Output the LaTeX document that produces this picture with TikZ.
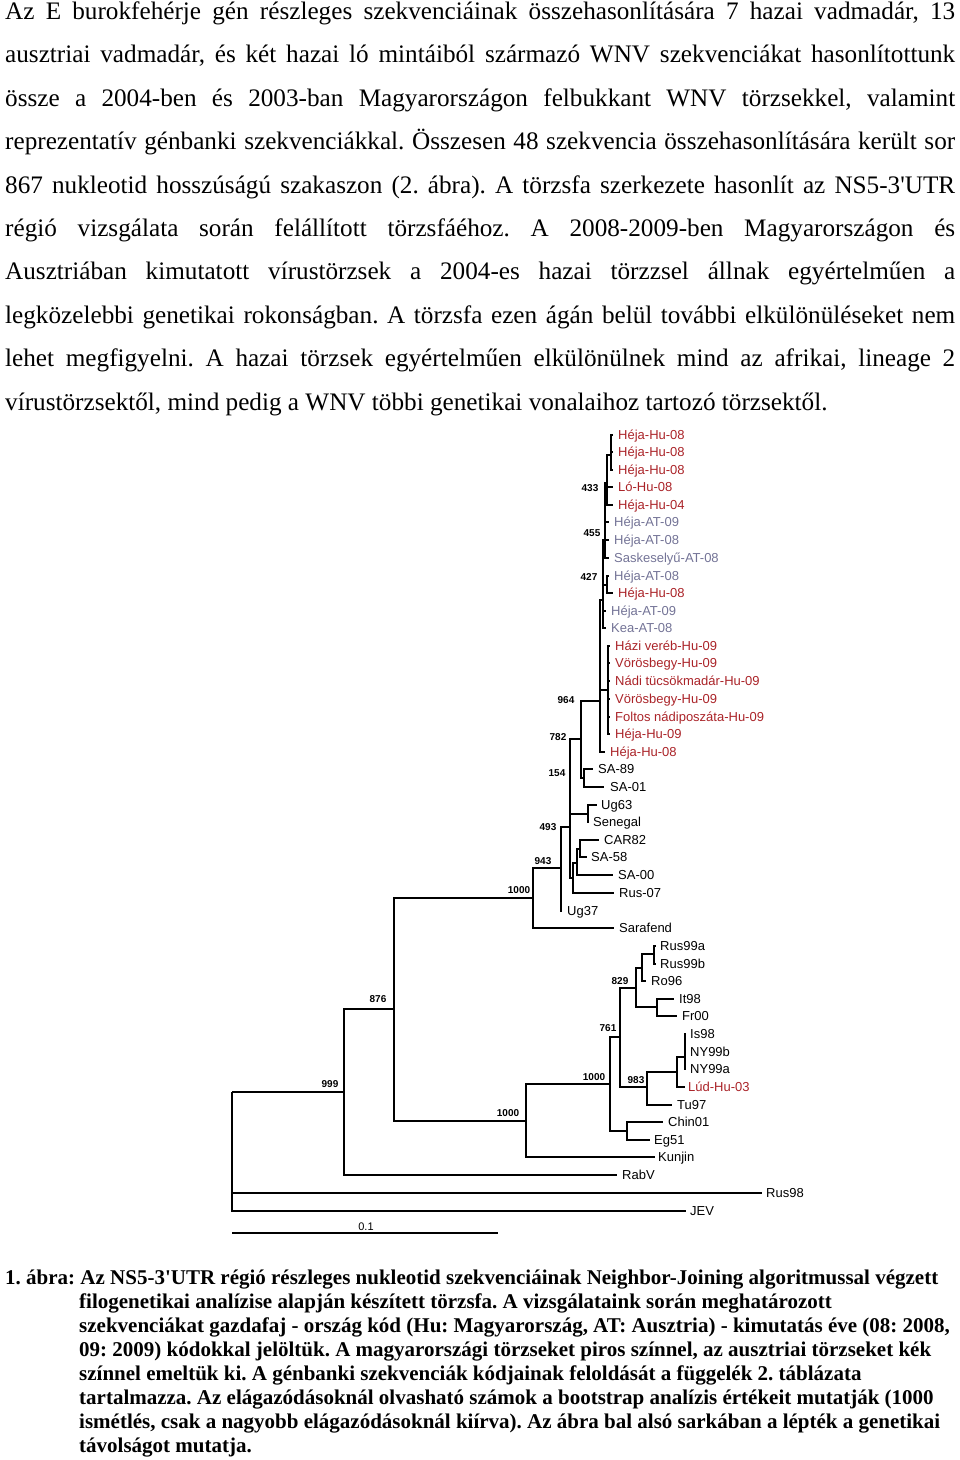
\documentclass[tikz,border=0pt]{standalone}
\usepackage{fontspec}
\setmainfont{Liberation Serif}
\newfontfamily\sansf{Liberation Sans}
\frenchspacing
\definecolor{hured}{RGB}{170,35,40}
\definecolor{atblue}{RGB}{115,115,150}
\newcommand\tleaf[6]{\coordinate (#1) at (#2,#4); \node[#5] (#1-t) at (#3,{#4+4.7}) {#6};}
\newcommand\kids[2]{\foreach \c in {#2} {\draw[br] (#1) |- (\c);}}
\tikzset{
 br/.style={line width=2.2pt},
 lf/.style={anchor=base west, inner sep=0, font=\sansf\fontsize{13}{15}\selectfont},
 hul/.style={lf, text=hured},
 atl/.style={lf, text=atblue},
 bkl/.style={lf, text=black},
 bs/.style={anchor=base, inner sep=0, font=\sansf\bfseries\fontsize{10}{12}\selectfont},
 para/.style={anchor=base west, inner sep=0, font=\fontsize{25.2}{30}\selectfont},
 capt/.style={anchor=base west, inner sep=0, font=\bfseries\fontsize{21}{24}\selectfont},
}
\begin{document}
\begin{tikzpicture}[x=1pt,y=-1pt]
\useasboundingbox (0,0) rectangle (960,1460);
% paragraph
\node[para] (p1) at (5,19.5) {\makebox[950pt][s]{Az E burokfehérje gén részleges szekvenciáinak összehasonlítására 7 hazai vadmadár, 13}};
\node[para] (p2) at (5,62.9) {\makebox[950pt][s]{ausztriai vadmadár, és két hazai ló mintáiból származó WNV szekvenciákat hasonlítottunk}};
\node[para] (p3) at (5,106.3) {\makebox[950pt][s]{össze a 2004-ben és 2003-ban Magyarországon felbukkant WNV törzsekkel, valamint}};
\node[para] (p4) at (5,149.7) {\makebox[950pt][s]{reprezentatív génbanki szekvenciákkal. Összesen 48 szekvencia összehasonlítására került sor}};
\node[para] (p5) at (5,193.1) {\makebox[950pt][s]{867 nukleotid hosszúságú szakaszon (2. ábra). A törzsfa szerkezete hasonlít az NS5-3\textquotesingle UTR}};
\node[para] (p6) at (5,236.5) {\makebox[950pt][s]{régió vizsgálata során felállított törzsfáéhoz. A 2008-2009-ben Magyarországon és}};
\node[para] (p7) at (5,279.9) {\makebox[950pt][s]{Ausztriában kimutatott vírustörzsek a 2004-es hazai törzzsel állnak egyértelműen a}};
\node[para] (p8) at (5,323.3) {\makebox[950pt][s]{legközelebbi genetikai rokonságban. A törzsfa ezen ágán belül további elkülönüléseket nem}};
\node[para] (p9) at (5,366.7) {\makebox[950pt][s]{lehet megfigyelni. A hazai törzsek egyértelműen elkülönülnek mind az afrikai, lineage 2}};
\node[para] (p10) at (5,410.1) {vírustörzsektől, mind pedig a WNV többi genetikai vonalaihoz tartozó törzsektől.};
% caption
\node[capt] (c1) at (5,1284) {1. ábra: Az NS5-3\textquotesingle UTR régió részleges nukleotid szekvenciáinak Neighbor-Joining algoritmussal végzett};
\node[capt] (c2) at (79,1308) {filogenetikai analízise alapján készített törzsfa. A vizsgálataink során meghatározott};
\node[capt] (c3) at (79,1332) {szekvenciákat gazdafaj - ország kód (Hu: Magyarország, AT: Ausztria) - kimutatás éve (08: 2008,};
\node[capt] (c4) at (79,1356) {09: 2009) kódokkal jelöltük. A magyarországi törzseket piros színnel, az ausztriai törzseket kék};
\node[capt] (c5) at (79,1380) {színnel emeltük ki. A génbanki szekvenciák kódjainak feloldását a függelék 2. táblázata};
\node[capt] (c6) at (79,1404) {tartalmazza. Az elágazódásoknál olvasható számok a bootstrap analízis értékeit mutatják (1000};
\node[capt] (c7) at (79,1428) {ismétlés, csak a nagyobb elágazódásoknál kiírva). Az ábra bal alsó sarkában a lépték a genetikai};
\node[capt] (c8) at (79,1452) {távolságot mutatja.};
% leaves
\tleaf{L1}{613}{618}{435}{hul}{Héja-Hu-08}
\tleaf{L2}{613}{618}{452}{hul}{Héja-Hu-08}
\tleaf{L3}{613}{618}{470}{hul}{Héja-Hu-08}
\tleaf{L4}{613}{618}{487}{hul}{Ló-Hu-08}
\tleaf{L5}{613}{618}{505}{hul}{Héja-Hu-04}
\tleaf{L6}{609}{614}{522}{atl}{Héja-AT-09}
\tleaf{L7}{609}{614}{540}{atl}{Héja-AT-08}
\tleaf{L8}{609}{614}{558}{atl}{Saskeselyű-AT-08}
\tleaf{L9}{609}{614}{576}{atl}{Héja-AT-08}
\tleaf{L10}{613}{618}{593}{hul}{Héja-Hu-08}
\tleaf{L11}{606}{611}{611}{atl}{Héja-AT-09}
\tleaf{L12}{606}{611}{628}{atl}{Kea-AT-08}
\tleaf{L13}{610}{615}{646}{hul}{Házi veréb-Hu-09}
\tleaf{L14}{610}{615}{663}{hul}{Vörösbegy-Hu-09}
\tleaf{L15}{610}{615}{681}{hul}{Nádi tücsökmadár-Hu-09}
\tleaf{L16}{610}{615}{699}{hul}{Vörösbegy-Hu-09}
\tleaf{L17}{610}{615}{717}{hul}{Foltos nádiposzáta-Hu-09}
\tleaf{L18}{610}{615}{734}{hul}{Héja-Hu-09}
\tleaf{L19}{605}{610}{752}{hul}{Héja-Hu-08}
\tleaf{L20}{593}{598}{769}{bkl}{SA-89}
\tleaf{L21}{604}{610}{787}{bkl}{SA-01}
\tleaf{L22}{597}{601}{805}{bkl}{Ug63}
\tleaf{L23}{589}{593}{822}{bkl}{Senegal}
\tleaf{L24}{599}{604}{840}{bkl}{CAR82}
\tleaf{L25}{587}{591}{857}{bkl}{SA-58}
\tleaf{L26}{613}{618}{875}{bkl}{SA-00}
\tleaf{L27}{614}{619}{893}{bkl}{Rus-07}
\tleaf{L28}{562}{567}{911}{bkl}{Ug37}
\tleaf{L29}{614}{619}{928}{bkl}{Sarafend}
\tleaf{L30}{656}{660}{946}{bkl}{Rus99a}
\tleaf{L31}{656}{660}{964}{bkl}{Rus99b}
\tleaf{L32}{646}{651}{981}{bkl}{Ro96}
\tleaf{L33}{674}{679}{999}{bkl}{It98}
\tleaf{L34}{677}{682}{1016}{bkl}{Fr00}
\tleaf{L35}{686}{690}{1034}{bkl}{Is98}
\tleaf{L36}{686}{690}{1052}{bkl}{NY99b}
\tleaf{L37}{686}{690}{1069}{bkl}{NY99a}
\tleaf{L38}{685}{688}{1087}{hul}{Lúd-Hu-03}
\tleaf{L39}{672}{677}{1105}{bkl}{Tu97}
\tleaf{L40}{663}{668}{1122}{bkl}{Chin01}
\tleaf{L41}{650}{654}{1140}{bkl}{Eg51}
\tleaf{L42}{655}{658}{1157}{bkl}{Kunjin}
\tleaf{L43}{617}{622}{1175}{bkl}{RabV}
\tleaf{L44}{762}{766}{1193}{bkl}{Rus98}
\tleaf{L45}{686}{690}{1211}{bkl}{JEV}
% internal nodes
\coordinate (root) at (232,1092);
\coordinate (n999) at (344,1092);
\coordinate (n876) at (394,1009);
\coordinate (n1000a) at (533,898);
\coordinate (n1000b) at (526,1121);
\coordinate (n1000c) at (610,1084);
\coordinate (nCE) at (627,1131);
\coordinate (n761) at (620,1037);
\coordinate (n829) at (636,988);
\coordinate (nRR) at (642,968);
\coordinate (nR) at (654,954);
\coordinate (nIF) at (657,1007);
\coordinate (n983) at (647,1087);
\coordinate (nNY) at (677,1072);
\coordinate (nNYi) at (685,1057);
\coordinate (n943) at (561,868);
\coordinate (n493) at (570,827);
\coordinate (n154) at (570,778);
\coordinate (nUS) at (588,814);
\coordinate (nCG) at (573,878);
\coordinate (nC2) at (577,863);
\coordinate (nC1) at (580,849);
\coordinate (n782) at (581,739);
\coordinate (nSA) at (584,778);
\coordinate (n964) at (600,701);
\coordinate (nH9) at (608,690);
\coordinate (n427) at (603,600);
\coordinate (nAH) at (607,585);
\coordinate (n455) at (605,540);
\coordinate (n433) at (607,483);
\coordinate (nA) at (611,455);
% edges
\kids{root}{n999,L44,L45}
\kids{n999}{n876,L43}
\kids{n876}{n1000a,n1000b}
\kids{n1000b}{n1000c,L42}
\kids{n1000c}{n761,nCE}
\kids{nCE}{L40,L41}
\kids{n761}{n829,n983}
\kids{n829}{nRR,nIF}
\kids{nRR}{nR,L32}
\kids{nR}{L30,L31}
\kids{nIF}{L33,L34}
\kids{n983}{nNY,L39}
\kids{nNY}{nNYi,L38}
\kids{nNYi}{L35,L36,L37}
\kids{n1000a}{n943,L29}
\kids{n943}{n493,L28}
\kids{n493}{n154,nCG}
\kids{n154}{n782,nUS}
\kids{nUS}{L22,L23}
\kids{nCG}{nC2,L27}
\kids{nC2}{nC1,L26}
\kids{nC1}{L24,L25}
\kids{n782}{n964,nSA}
\kids{nSA}{L20,L21}
\kids{n964}{n427,nH9,L19}
\kids{nH9}{L13,L14,L15,L16,L17,L18}
\kids{n427}{n455,nAH,L11,L12}
\kids{nAH}{L9,L10}
\kids{n455}{n433,L6,L7,L8}
\kids{n433}{nA,L4,L5}
\kids{nA}{L1,L2,L3}
% bootstrap values
\node[bs] (b433) at (590,491.6) {433};
\node[bs] (b455) at (592,536.6) {455};
\node[bs] (b427) at (589,580.6) {427};
\node[bs] (b964) at (566,703.6) {964};
\node[bs] (b782) at (558,740.6) {782};
\node[bs] (b154) at (557,776.6) {154};
\node[bs] (b493) at (548,830.6) {493};
\node[bs] (b943) at (543,864.6) {943};
\node[bs] (b1000a) at (519,893.6) {1000};
\node[bs] (b876) at (378,1002.6) {876};
\node[bs] (b829) at (620,984.6) {829};
\node[bs] (b761) at (608,1031.6) {761};
\node[bs] (b1000c) at (594,1080.6) {1000};
\node[bs] (b983) at (636,1083.6) {983};
\node[bs] (b1000b) at (508,1116.6) {1000};
\node[bs] (b999) at (330,1087.6) {999};
% scale bar
\coordinate (sb1) at (232,1233);
\coordinate (sb2) at (498,1233);
\draw[br] (sb1) -- (sb2);
\node[anchor=base, inner sep=0, font=\sansf\fontsize{11}{13}\selectfont] (sbl) at (366,1230) {0.1};
\end{tikzpicture}
\end{document}
